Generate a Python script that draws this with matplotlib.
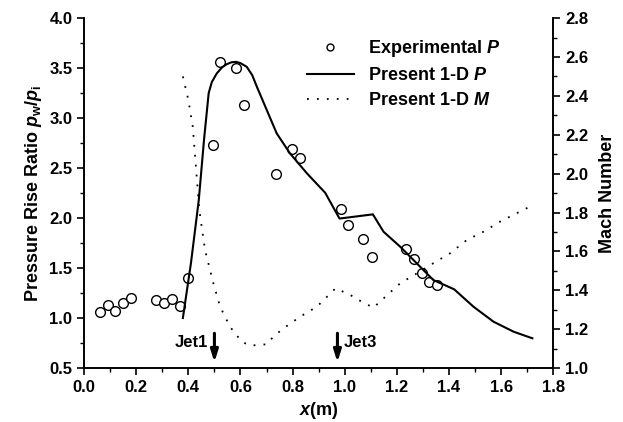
import matplotlib
matplotlib.use("Agg")
import matplotlib.pyplot as plt
from matplotlib.ticker import MultipleLocator, FormatStrFormatter
from matplotlib.lines import Line2D

plt.rcParams['font.family'] = 'Liberation Sans'
plt.rcParams['font.weight'] = 'bold'
plt.rcParams['mathtext.fontset'] = 'custom'
plt.rcParams['mathtext.it'] = 'Liberation Sans:bold:italic'
plt.rcParams['mathtext.rm'] = 'Liberation Sans:bold'
plt.rcParams['mathtext.bf'] = 'Liberation Sans:bold'

# Experimental pressure ratio
exp_x = [0.06, 0.09, 0.12, 0.15, 0.18, 0.277, 0.307, 0.338, 0.368, 0.398,
         0.494, 0.523, 0.583, 0.614, 0.738, 0.799, 0.83,
         0.985, 1.014, 1.072, 1.103, 1.234, 1.265, 1.296, 1.325, 1.355]
exp_p = [1.06, 1.13, 1.07, 1.15, 1.2, 1.18, 1.15, 1.187, 1.12, 1.397,
         2.727, 3.557, 3.497, 3.127, 2.443, 2.687, 2.603,
         2.087, 1.927, 1.787, 1.613, 1.69, 1.59, 1.453, 1.36, 1.327]

# Present 1-D pressure
p_x = [0.379, 0.41, 0.44, 0.46, 0.478, 0.49, 0.509, 0.53, 0.548, 0.565, 0.583,
       0.60, 0.624, 0.645, 0.663, 0.701, 0.739, 0.79, 0.855, 0.925, 0.98,
       1.108, 1.149, 1.213, 1.34, 1.42, 1.494, 1.571, 1.648, 1.72]
p_y = [1.0, 1.55, 2.18, 2.78, 3.25, 3.36, 3.447, 3.51, 3.54, 3.558, 3.563,
       3.55, 3.513, 3.43, 3.313, 3.08, 2.847, 2.647, 2.447, 2.253, 1.995,
       2.037, 1.863, 1.713, 1.38, 1.287, 1.113, 0.963, 0.863, 0.797]

# Present 1-D Mach number
m_x = [0.379, 0.40, 0.417, 0.432, 0.442, 0.464, 0.496, 0.522, 0.56, 0.605,
       0.637, 0.701, 0.726, 0.765, 0.829, 0.893, 0.965, 1.021, 1.053, 1.11,
       1.149, 1.213, 1.277, 1.34, 1.404, 1.468, 1.532, 1.596, 1.71]
m_y = [2.50, 2.379, 2.241, 1.984, 1.813, 1.607, 1.436, 1.315, 1.212, 1.135,
       1.115, 1.122, 1.161, 1.204, 1.264, 1.315, 1.41, 1.376, 1.35, 1.31,
       1.358, 1.436, 1.487, 1.539, 1.59, 1.658, 1.701, 1.753, 1.83]

jets = [("Jet1", 0.5), ("Jet3", 0.972)]

fig = plt.figure(figsize=(6.23, 4.22), dpi=100)
ax = fig.add_axes([0.135, 0.128, 0.753, 0.829])
ax2 = ax.twinx()

ax.plot(exp_x, exp_p, 'o', mfc='white', mec='black', ms=7, mew=1.0)
ax.plot(p_x, p_y, '-', color='black', lw=1.5)
ax2.plot(m_x, m_y, color='black', lw=1.3, ls=(0, (1, 4.5)))

ax.set_xlim(0, 1.8)
ax.set_ylim(0.5, 4.0)
ax2.set_ylim(1.0, 2.8)

ax.xaxis.set_major_locator(MultipleLocator(0.2))
ax.xaxis.set_minor_locator(MultipleLocator(0.1))
ax.yaxis.set_major_locator(MultipleLocator(0.5))
ax.yaxis.set_minor_locator(MultipleLocator(0.25))
ax2.yaxis.set_major_locator(MultipleLocator(0.2))
ax2.yaxis.set_minor_locator(MultipleLocator(0.1))

for a in (ax, ax2):
    a.spines['top'].set_visible(False)
    for s in a.spines.values():
        s.set_linewidth(1.2)
    a.tick_params(which='major', direction='out', length=5, width=1.2, labelsize=12)
    a.tick_params(which='minor', direction='out', length=3, width=1.0)

ax.xaxis.set_major_formatter(FormatStrFormatter('%.1f'))
ax.yaxis.set_major_formatter(FormatStrFormatter('%.1f'))
ax2.yaxis.set_major_formatter(FormatStrFormatter('%.1f'))

ax.set_xlabel(r'$x$(m)', fontsize=13, fontweight='bold')
ax.set_ylabel(r'Pressure Rise Ratio $p_{\mathrm{w}}/p_{\mathrm{i}}$', fontsize=13, fontweight='bold')
ax2.set_ylabel('Mach Number', fontsize=13, fontweight='bold', labelpad=8)

for name, xj in jets:
    ax.annotate('', xy=(xj, 0.53), xytext=(xj, 0.875),
                arrowprops=dict(arrowstyle='-|>,head_width=0.22,head_length=0.7',
                                color='black', lw=2.2))
    if name == "Jet1":
        ax.text(xj - 0.025, 0.75, name, ha='right', va='center', fontsize=12, fontweight='bold')
    else:
        ax.text(xj + 0.025, 0.75, name, ha='left', va='center', fontsize=12, fontweight='bold')

handles = [
    Line2D([], [], marker='o', ls='none', mfc='white', mec='black', ms=5, mew=1.0),
    Line2D([], [], color='black', lw=1.5),
    Line2D([], [], color='black', lw=1.3, ls=(0, (1, 4.5))),
]
labels = [r'Experimental $P$', r'Present 1-D $P$', r'Present 1-D $M$']
ax.legend(handles, labels, loc='upper left', bbox_to_anchor=(0.44, 0.99),
          frameon=False, fontsize=13, handlelength=2.6, labelspacing=0.45)

fig.savefig('out.png', dpi=100)
